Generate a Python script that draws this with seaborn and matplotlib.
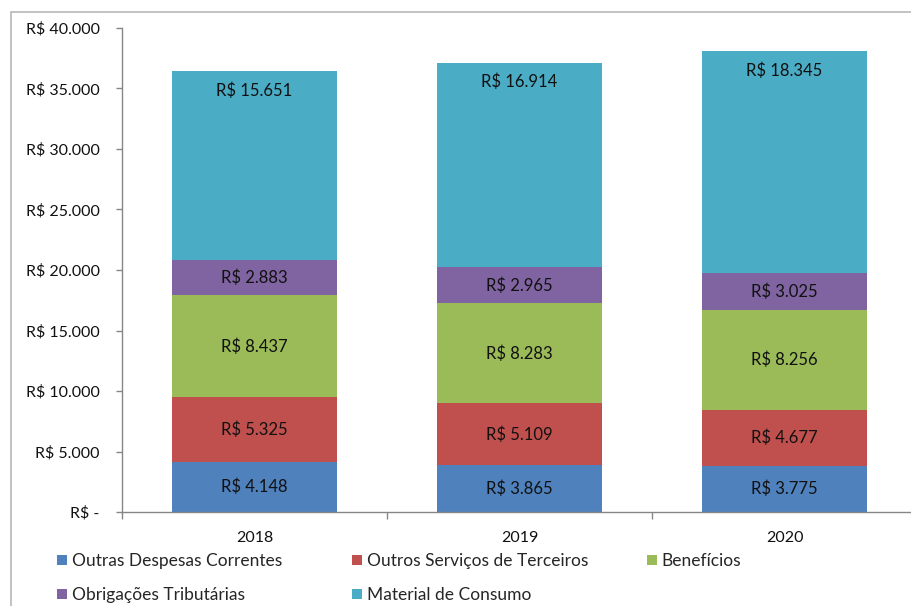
import numpy as np
import pandas as pd
import seaborn as sns
from matplotlib import pyplot as plt
from matplotlib.patches import Rectangle, Patch
from matplotlib.ticker import FuncFormatter, FixedLocator

anos = ["2018", "2019", "2020"]
series = ["Outras Despesas Correntes", "Outros Serviços de Terceiros", "Benefícios",
          "Obrigações Tributárias", "Material de Consumo"]
outras_despesas = [4148, 3865, 3775]
outros_servicos = [5325, 5109, 4677]
beneficios = [8437, 8283, 8256]
obrigacoes = [2883, 2965, 3025]
material = [15651, 16914, 18345]
cores = ["#4F81BD", "#C0504D", "#9BBB59", "#8064A2", "#4BACC6"]

valores = [outras_despesas, outros_servicos, beneficios, obrigacoes, material]
df = pd.DataFrame({s: v for s, v in zip(series, valores)}, index=anos)
cum = df.cumsum(axis=1)

sns.set_style("white")
plt.rcParams["font.family"] = ["Lato", "DejaVu Sans"]
plt.rcParams["font.size"] = 11

fig = plt.figure(figsize=(9.11, 6.06), dpi=100)
ax = fig.add_axes([122 / 911, 1 - 512 / 606, 1 - 122 / 911, 484 / 606])

# stacked look: draw cumulative totals, tallest first
for s, c in reversed(list(zip(series, cores))):
    sns.barplot(x=anos, y=cum[s].values, color=c, width=0.62, ax=ax,
                saturation=1, edgecolor="none", linewidth=0)

for i, ano in enumerate(anos):
    base = 0
    for j, s in enumerate(series):
        v = df.loc[ano, s]
        txt = "R$ " + f"{v:,}".replace(",", ".")
        if j == len(series) - 1:
            ax.annotate(txt, (i, base + v), xytext=(0, -14), textcoords="offset points",
                        ha="center", va="center", color="#111111", fontsize=12)
        else:
            ax.text(i, base + v / 2, txt, ha="center", va="center", color="#111111", fontsize=12)
        base += v

ax.set_ylim(0, 40000)
ax.set_xlim(-0.5, 2.5 - 6 / 265)
ax.yaxis.set_major_locator(FixedLocator(np.arange(0, 40001, 5000)))
ax.yaxis.set_major_formatter(FuncFormatter(
    lambda y, p: "R$ -" if y == 0 else "R$ " + f"{int(y):,}".replace(",", ".")))
ax.xaxis.set_minor_locator(FixedLocator([-0.5, 0.5, 1.5]))
ax.tick_params(axis="x", which="major", length=0, pad=14, labelsize=11.5, colors="#111111")
ax.tick_params(axis="x", which="minor", length=5, width=1, color="#868686", direction="out", bottom=True)
ax.tick_params(axis="y", length=4, width=1, color="#868686", direction="out", left=True,
               pad=12, labelsize=11.5, labelcolor="#111111")
for sp in ["top", "right"]:
    ax.spines[sp].set_visible(False)
for sp in ["left", "bottom"]:
    ax.spines[sp].set_color("#868686")
    ax.spines[sp].set_linewidth(1)

# outer frame of the original picture
fig.add_artist(Rectangle((11 / 911, -0.1), 1.2, 1.1 - 12 / 606, transform=fig.transFigure,
                         fill=False, edgecolor="#b8b8b8", linewidth=1.2))

# legend, three columns laid out row by row
colunas = [[0, 3], [1, 4], [2]]
xs = [57 / 911, 352 / 911, 647 / 911]
for xcol, idx in zip(xs, colunas):
    handles = [Patch(facecolor=cores[k], edgecolor="none") for k in idx]
    fig.legend(handles, [series[k] for k in idx], loc="upper left",
               bbox_to_anchor=(xcol, 1 - 553 / 606), frameon=False, handlelength=0.55,
               handleheight=0.55, handletextpad=0.3, labelspacing=1.05, fontsize=12.5,
               borderaxespad=0, borderpad=0)

fig.savefig("out.png", dpi=100)
